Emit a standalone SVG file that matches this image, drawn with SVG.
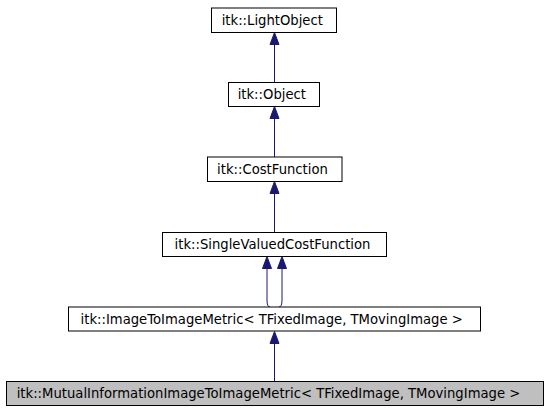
<svg xmlns="http://www.w3.org/2000/svg" width="547" height="411" viewBox="0 0 547 411">
<style>
  .box rect { fill: #ffffff; stroke: #000000; stroke-width: 1; }
  .box.cur rect { fill: #bfbfbf; }
  .box text { font-family: "DejaVu Sans", "Liberation Sans", sans-serif; font-size: 13.2px; fill: #000000; text-anchor: middle; }
  .edge { stroke: #191970; stroke-width: 1; fill: none; }
  .head { fill: #191970; stroke: #191970; stroke-width: 1; }
</style>
<rect width="547" height="411" fill="#ffffff"/>
<g id="connectors">
  <path class="edge" d="M274.5,82.5 V44.5"/>
  <polygon class="head" points="274.5,32.5 270,44.5 279,44.5"/>
  <path class="edge" d="M274.5,157.5 V118.5"/>
  <polygon class="head" points="274.5,106.5 270,118.5 279,118.5"/>
  <path class="edge" d="M274.5,232.5 V193.5"/>
  <polygon class="head" points="274.5,181.5 270,193.5 279,193.5"/>
  <path class="edge" d="M267,268.5 V300 Q267,307 270,307"/>
  <polygon class="head" points="267,256.5 262.5,268.5 271.5,268.5"/>
  <path class="edge" d="M282,268.5 V300 Q282,307 279,307"/>
  <polygon class="head" points="282,256.5 277.5,268.5 286.5,268.5"/>
  <path class="edge" d="M274.5,381.5 V343.5"/>
  <polygon class="head" points="274.5,331.5 270,343.5 279,343.5"/>
</g>
<g id="node-lightobject" class="box">
  <rect x="211.5" y="8" width="125" height="24.5"/>
  <text x="272.3" y="25">itk::LightObject</text>
</g>
<g id="node-object" class="box">
  <rect x="228.5" y="82.5" width="91" height="24"/>
  <text x="271.8" y="99">itk::Object</text>
</g>
<g id="node-costfunction" class="box">
  <rect x="207.5" y="157" width="134.5" height="24.5"/>
  <text x="272.5" y="174">itk::CostFunction</text>
</g>
<g id="node-singlevaluedcostfunction" class="box">
  <rect x="162.5" y="232.5" width="224" height="24"/>
  <text x="272.5" y="249">itk::SingleValuedCostFunction</text>
</g>
<g id="node-imagetoimagemetric" class="box">
  <rect x="68.5" y="307" width="412" height="24"/>
  <text x="271.7" y="324">itk::ImageToImageMetric&lt; TFixedImage, TMovingImage &gt;</text>
</g>
<g id="node-mutualinformation" class="box cur">
  <rect x="6.5" y="381.5" width="537" height="24"/>
  <text x="268.5" y="398">itk::MutualInformationImageToImageMetric&lt; TFixedImage, TMovingImage &gt;</text>
</g>
</svg>
